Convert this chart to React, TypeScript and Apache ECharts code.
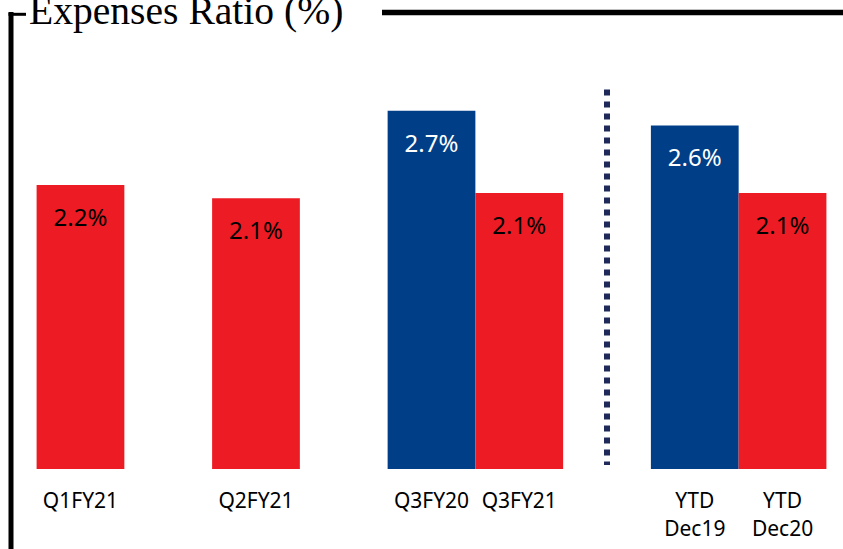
import React, { useEffect, useRef } from "react";
import * as echarts from "echarts";

// Category slots (blank slots are spacing; the divider sits in slot "divider")
const categories = ["Q1FY21", "", "Q2FY21", "", "Q3FY20", "Q3FY21", "", "YTD\nDec19", "YTD\nDec20"];
// Bar heights (in %); null = empty slot
const values: (number | null)[] = [2.14, null, 2.04, null, 2.7, 2.08, null, 2.59, 2.08];
// Displayed value labels
const valueLabels = ["2.2%", "", "2.1%", "", "2.7%", "2.1%", "", "2.6%", "2.1%"];
// Which bars belong to the prior period (blue)
const priorPeriod = [false, false, false, false, true, false, false, true, false];
const dividerSlot = 6;
const dividerRange = [2.86, 0.03];

const RED = "#ED1C24";
const BLUE = "#003F87";

export default function App() {
  const ref = useRef<HTMLDivElement>(null);
  useEffect(() => {
    document.body.style.margin = "0";
    const chart = echarts.init(ref.current!, null, { renderer: "svg" });
    const option: any = {
      animation: false,
      backgroundColor: "#ffffff",
      grid: { left: 36.6, right: 16.6, top: 71, bottom: 80 },
      xAxis: {
        type: "category",
        data: categories,
        axisLine: { show: false },
        axisTick: { show: false },
        axisLabel: {
          interval: 0,
          margin: 17,
          color: "#000",
          fontFamily: "Noto Sans",
          fontSize: 21,
          lineHeight: 28,
        },
      },
      yAxis: { type: "value", min: 0, max: 3, show: false },
      series: [
        {
          type: "bar",
          barWidth: "100%",
          barCategoryGap: 0,
          data: values.map((v, i) =>
            v == null
              ? "-"
              : {
                  value: v,
                  itemStyle: { color: priorPeriod[i] ? BLUE : RED },
                  label: { color: priorPeriod[i] ? "#fff" : "#000" },
                }
          ),
          label: {
            show: true,
            position: "insideTop",
            distance: 19,
            fontFamily: "Noto Sans",
            fontSize: 24,
            lineHeight: 25,
            formatter: (p: any) => valueLabels[p.dataIndex],
          },
          markLine: {
            silent: true,
            symbol: "none",
            label: { show: false },
            lineStyle: { color: "#1F2A5A", type: [6, 6], width: 6, cap: "butt" },
            data: [[{ coord: [dividerSlot, dividerRange[0]] }, { coord: [dividerSlot, dividerRange[1]] }]],
          },
        },
      ],
      graphic: [
        { type: "line", shape: { x1: 11, y1: 12, x2: 11, y2: 549 }, style: { stroke: "#000", lineWidth: 5 } },
        { type: "line", shape: { x1: 8.5, y1: 14.3, x2: 26, y2: 14.3 }, style: { stroke: "#000", lineWidth: 3 } },
        { type: "line", shape: { x1: 382, y1: 12.5, x2: 843, y2: 12.5 }, style: { stroke: "#000", lineWidth: 5.5 } },
        {
          type: "text",
          x: 29,
          y: 11,
          style: {
            text: "Expenses Ratio (%)",
            fill: "#000",
            font: "39.6px 'Liberation Serif'",
            verticalAlign: "middle",
            align: "left",
          },
        },
      ],
    };
    chart.setOption(option);
    return () => chart.dispose();
  }, []);
  return <div ref={ref} style={{ width: 843, height: 549 }} />;
}
